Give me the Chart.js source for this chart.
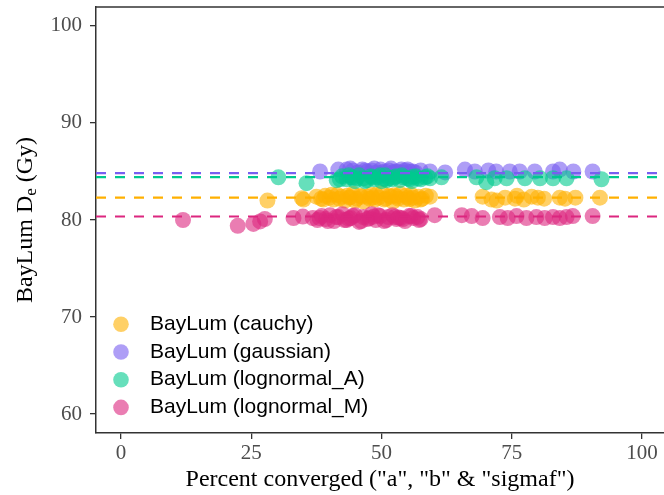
<!DOCTYPE html>
<html>
<head>
<meta charset="utf-8">
<script src="https://cdn.jsdelivr.net/npm/chart.js@4/dist/chart.umd.min.js"></script>
<style>
    html, body { margin: 0; padding: 0; background: #fff; overflow: hidden; }
</style>
</head>
<body>
<canvas id="grafico" width="664" height="495"></canvas>
<script>
// axis ranges and ticks
const xMin = -4.8;
const xMax = 104.2;
const yMin = 58.05;
const yMax = 101.95;
const xTicks = [0, 25, 50, 75, 100];
const yTicks = [60, 70, 80, 90, 100];

const nomesSeries = ['BayLum (cauchy)', 'BayLum (gaussian)', 'BayLum (lognormal_A)', 'BayLum (lognormal_M)'];
const coresSeries = ['#FFB000', '#785EF0', '#00C98E', '#DC267F'];
// mean De of each model (dashed lines)
const mediasSeries = [82.3, 84.83, 84.42, 80.36];

const cauchyX = [28.1, 34.7, 35.0, 37.5, 38.4, 39.2, 40.0, 40.8, 41.5, 42.3, 43.0, 43.8, 44.5, 45.2, 45.9, 46.6, 47.3, 48.0, 48.7, 49.4, 50.1, 50.8, 51.5, 52.2, 52.9, 53.6, 54.3, 55.0, 55.7, 56.4, 57.1, 57.8, 58.5, 59.3, 69.4, 71.1, 72.1, 73.7, 75.6, 76.0, 77.3, 78.8, 80.0, 81.2, 84.2, 85.2, 87.2, 91.9,
    38.8, 40.4, 41.9, 43.4, 44.9, 46.2, 47.7, 49.0, 50.5, 51.8, 53.2, 54.7, 56.0, 57.5, 44.0, 48.3, 52.5, 55.4];
const cauchyY = [82.0, 82.25, 82.1, 82.4, 82.2, 82.5, 82.3, 82.1, 82.6, 82.4, 82.0, 82.3, 82.7, 82.2, 82.5, 81.9, 82.4, 82.6, 82.1, 82.3, 82.8, 82.2, 82.5, 81.9, 82.4, 82.7, 82.1, 82.3, 82.6, 82.0, 82.4, 82.2, 82.5, 82.4, 82.4, 82.1, 82.0, 82.3, 82.2, 82.5, 82.1, 82.4, 82.3, 82.2, 82.3, 82.2, 82.3, 82.3,
    82.1, 82.6, 82.2, 82.5, 82.0, 82.4, 82.2, 82.6, 82.1, 82.4, 82.2, 82.5, 82.3, 82.1, 82.35, 82.3, 82.55, 82.15];

const gaussianX = [38.2, 41.7, 43.3, 44.5, 45.4, 46.3, 47.2, 48.1, 49.0, 49.8, 50.6, 51.4, 52.2, 53.0, 53.8, 54.5, 55.5, 56.5, 57.5, 59.3, 62.2, 66.0, 67.9, 70.5, 72.0, 74.6, 76.5, 79.4, 82.9, 84.2, 86.8, 90.5,
    44.0, 46.8, 48.6, 50.2, 51.8, 52.6, 54.0, 55.0, 56.0];
const gaussianY = [85.0, 85.2, 85.2, 85.1, 84.9, 85.2, 85.0, 85.1, 84.9, 85.2, 85.0, 85.1, 84.9, 85.0, 85.2, 85.1, 85.0, 84.9, 85.1, 85.0, 84.9, 85.2, 85.0, 85.1, 85.0, 85.0, 85.0, 85.0, 85.0, 85.2, 85.0, 85.0,
    85.3, 85.1, 85.3, 84.9, 85.3, 85.0, 84.9, 85.2, 85.0];

const lognormalAX = [30.2, 35.6, 41.4, 42.4, 43.3, 44.1, 44.9, 45.7, 46.5, 47.2, 47.9, 48.6, 49.3, 50.0, 50.7, 51.4, 52.1, 52.8, 53.5, 54.2, 55.0, 55.8, 56.6, 57.5, 58.4, 59.3, 61.5, 68.2, 70.1, 71.7, 74.0, 77.5, 80.4, 82.9, 85.5, 92.2,
    42.0, 43.7, 45.3, 46.8, 48.2, 49.7, 51.0, 52.4, 53.9, 55.4, 57.0, 58.8, 44.5, 50.4, 56.0];
const lognormalAY = [84.4, 83.8, 84.1, 84.5, 84.2, 84.4, 84.0, 84.6, 84.3, 84.1, 84.5, 84.2, 84.4, 84.0, 84.6, 84.3, 84.2, 84.5, 84.1, 84.4, 84.3, 84.0, 84.5, 84.2, 84.4, 84.3, 84.4, 84.4, 83.9, 84.3, 84.3, 84.3, 84.3, 84.3, 84.3, 84.2,
    84.2, 84.6, 84.3, 84.0, 84.4, 84.6, 84.1, 84.4, 84.6, 84.2, 84.3, 84.5, 84.35, 84.25, 84.45];

const lognormalMX = [11.9, 22.4, 25.4, 26.7, 27.6, 33.1, 34.9, 36.8, 37.7, 38.5, 39.3, 40.1, 40.9, 41.7, 42.5, 43.3, 44.1, 44.9, 45.7, 46.5, 47.3, 48.1, 48.9, 49.7, 50.5, 51.3, 52.1, 52.9, 53.7, 54.5, 55.3, 56.1, 56.9, 57.5, 60.2, 65.4, 67.3, 69.4, 72.7, 74.2, 75.9, 77.8, 79.7, 81.3, 82.9, 84.2, 85.5, 86.7, 90.5,
    38.1, 39.7, 41.3, 42.9, 44.5, 46.1, 47.7, 49.3, 50.9, 52.5, 54.1, 55.7, 57.2, 43.7, 48.5, 53.3];
const lognormalMY = [80.0, 79.4, 79.6, 79.85, 80.1, 80.2, 80.35, 80.2, 80.0, 80.4, 80.1, 80.5, 79.9, 80.3, 80.6, 80.0, 80.2, 80.5, 79.8, 80.3, 80.1, 80.6, 80.0, 80.4, 79.9, 80.3, 80.5, 80.1, 80.2, 79.9, 80.4, 80.2, 80.3, 80.1, 80.5, 80.5, 80.4, 80.2, 80.3, 80.2, 80.4, 80.2, 80.3, 80.2, 80.3, 80.2, 80.3, 80.4, 80.4,
    80.2, 79.9, 80.3, 80.0, 80.4, 79.9, 80.2, 80.5, 80.0, 80.3, 80.1, 80.4, 80.0, 80.15, 80.35, 80.25];

const todosX = [cauchyX, gaussianX, lognormalAX, lognormalMX];
const todosY = [cauchyY, gaussianY, lognormalAY, lognormalMY];

function transparente(hex, alpha) {
    let r = parseInt(hex.slice(1, 3), 16);
    let g = parseInt(hex.slice(3, 5), 16);
    let b = parseInt(hex.slice(5, 7), 16);
    return 'rgba(' + r + ',' + g + ',' + b + ',' + alpha + ')';
}

var datasets = [];

// points: cauchy at the bottom, lognormal_M on top (lower order is drawn later)
nomesSeries.forEach((nome, i) => {
    datasets.push({
        type: 'scatter',
        label: nome,
        data: todosX[i].map((x, j) => ({ x: x, y: todosY[i][j] })),
        backgroundColor: transparente(coresSeries[i], 0.6),
        borderWidth: 0,
        pointRadius: 8,
        order: 10 - i
    });
});

// dashed mean lines, drawn over the points
nomesSeries.forEach((nome, i) => {
    datasets.push({
        type: 'line',
        label: 'media ' + nome,
        data: [{ x: xMin, y: mediasSeries[i] }, { x: xMax, y: mediasSeries[i] }],
        borderColor: coresSeries[i],
        borderWidth: 2.2,
        borderDash: [10, 9],
        pointRadius: 0,
        fill: false,
        order: 4 - i
    });
});

// legend inside the panel + top border + y title with subscript
const extras = {
    id: 'extras',
    afterDraw(chart) {
        const ctx = chart.ctx;
        const area = chart.chartArea;

        ctx.save();
        ctx.strokeStyle = '#333';
        ctx.lineWidth = 1.5;
        ctx.beginPath();
        ctx.moveTo(area.left, area.top);
        ctx.lineTo(area.right, area.top);
        ctx.stroke();

        ctx.font = '21px "Liberation Sans", Arial, sans-serif';
        ctx.textBaseline = 'middle';
        ctx.textAlign = 'left';
        nomesSeries.forEach((nome, i) => {
            let y = 324.3 + i * 27.7;
            ctx.fillStyle = transparente(coresSeries[i], 0.6);
            ctx.beginPath();
            ctx.arc(121, y, 7.8, 0, Math.PI * 2);
            ctx.fill();
            ctx.fillStyle = '#000';
            ctx.fillText(nome, 150, y);
        });

        // "BayLum De (Gy)" with subscript e
        let parte1 = 'BayLum D';
        let sub = 'e';
        let parte2 = ' (Gy)';
        let fonteGrande = '24px "Liberation Serif", "Times New Roman", serif';
        let fontePequena = '17px "Liberation Serif", "Times New Roman", serif';
        ctx.translate(32, (area.top + area.bottom) / 2);
        ctx.rotate(-Math.PI / 2);
        ctx.fillStyle = '#000';
        ctx.textBaseline = 'alphabetic';
        ctx.font = fonteGrande;
        let w1 = ctx.measureText(parte1).width;
        let w3 = ctx.measureText(parte2).width;
        ctx.font = fontePequena;
        let w2 = ctx.measureText(sub).width;
        let inicio = -(w1 + w2 + w3) / 2;
        ctx.font = fonteGrande;
        ctx.fillText(parte1, inicio, 0);
        ctx.font = fontePequena;
        ctx.fillText(sub, inicio + w1, 4);
        ctx.font = fonteGrande;
        ctx.fillText(parte2, inicio + w1 + w2, 0);
        ctx.restore();
    }
};

const ctx = document.getElementById('grafico');

new Chart(ctx, {
    data: { datasets: datasets },
    options: {
        responsive: false,
        animation: false,
        layout: { autoPadding: false, padding: { top: 7, right: 0, left: 0, bottom: 0 } },
        plugins: {
            legend: { display: false },
            tooltip: { enabled: false }
        },
        scales: {
            x: {
                type: 'linear',
                min: xMin,
                max: xMax,
                afterBuildTicks: (scale) => { scale.ticks = xTicks.map(v => ({ value: v })); },
                afterFit: (scale) => {
                    scale.height = 62;
                    scale.paddingLeft = 0;
                    scale.paddingRight = 0;
                },
                grid: { drawOnChartArea: false, drawTicks: true, tickLength: 6, color: '#333', lineWidth: 1.3 },
                border: { display: true, color: '#333', width: 1.5 },
                ticks: {
                    color: '#4D4D4D',
                    padding: 2,
                    maxRotation: 0,
                    font: { family: '"Liberation Serif", "Times New Roman", serif', size: 21 }
                },
                title: {
                    display: true,
                    text: 'Percent converged ("a", "b" & "sigmaf")',
                    color: '#000',
                    padding: { top: 0, bottom: 1 },
                    font: { family: '"Liberation Serif", "Times New Roman", serif', size: 24 }
                }
            },
            y: {
                type: 'linear',
                min: yMin,
                max: yMax,
                afterBuildTicks: (scale) => { scale.ticks = yTicks.map(v => ({ value: v })); },
                afterFit: (scale) => {
                    scale.width = 96;
                    scale.paddingTop = 0;
                    scale.paddingBottom = 0;
                },
                grid: { drawOnChartArea: false, drawTicks: true, tickLength: 6, color: '#333', lineWidth: 1.3 },
                border: { display: true, color: '#333', width: 1.5 },
                ticks: {
                    color: '#4D4D4D',
                    padding: 8,
                    font: { family: '"Liberation Serif", "Times New Roman", serif', size: 21 }
                },
                title: { display: false }
            }
        }
    },
    plugins: [extras]
});
</script>
</body>
</html>
